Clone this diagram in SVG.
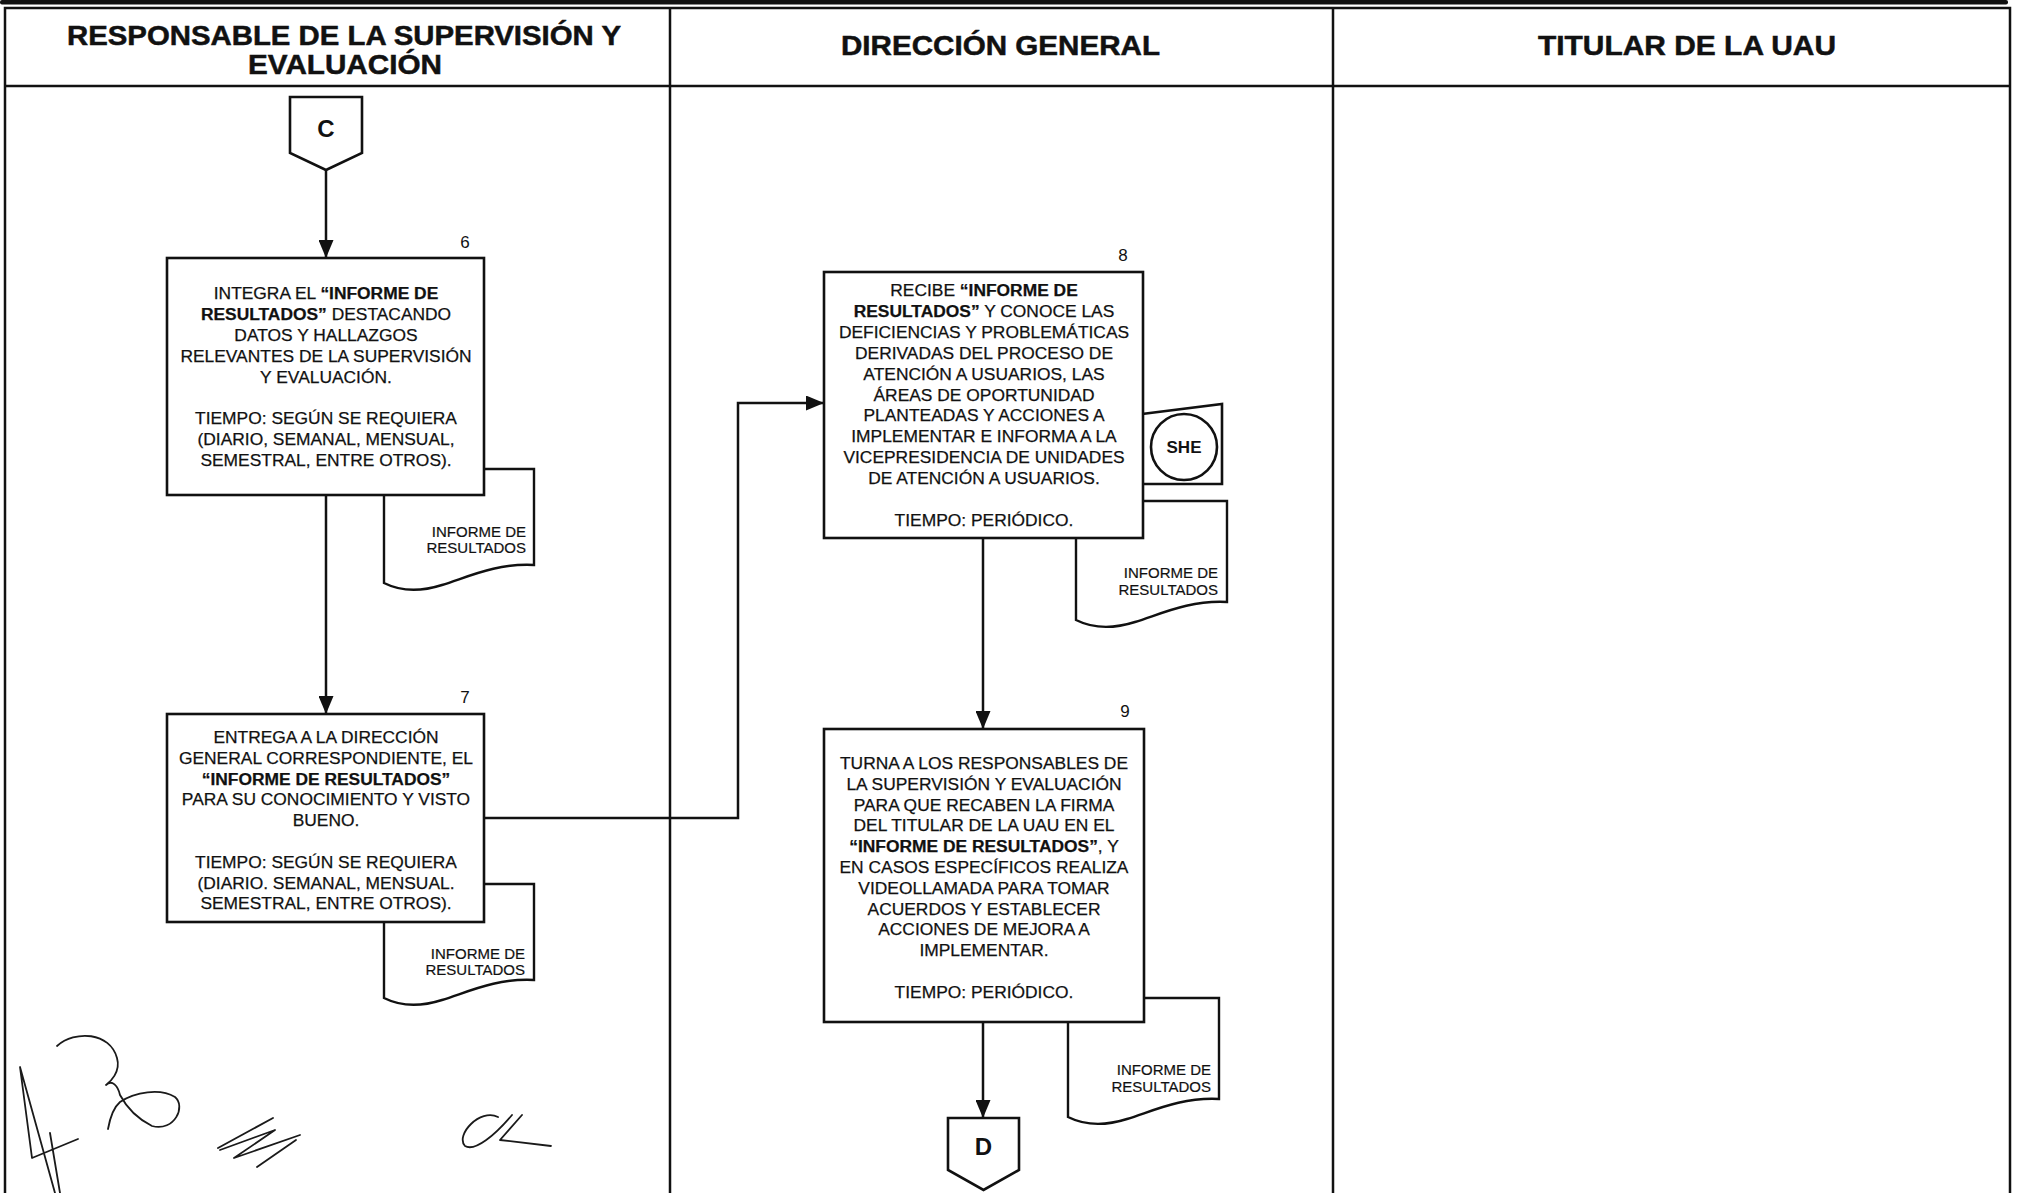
<svg xmlns="http://www.w3.org/2000/svg" width="2017" height="1193" viewBox="0 0 2017 1193">
  <style>
    .frame { fill: none; stroke: #111; stroke-width: 2.5; }
    .box { fill: #fff; stroke: #111; stroke-width: 2.6; }
    .doc { fill: #fff; stroke: #111; stroke-width: 2.4; }
    .edge { fill: none; stroke: #111; stroke-width: 2.5; }
    .sig { fill: none; stroke: #1a1a1a; stroke-width: 1.8; stroke-linecap: round; stroke-linejoin: round; }
    text { font-family: "Liberation Sans", Arial, sans-serif; fill: #111; }
    .t { font-size: 17.4px; text-anchor: middle; stroke: #111; stroke-width: 0.25; }
    .b { font-weight: bold; }
    .h { font-size: 27px; font-weight: bold; text-anchor: middle; stroke: #111; stroke-width: 0.5; }
    .n { font-size: 17px; text-anchor: middle; }
    .d { font-size: 15px; text-anchor: end; stroke: #111; stroke-width: 0.2; }
    .k { font-size: 24px; font-weight: bold; text-anchor: middle; }
    .she { font-size: 17px; font-weight: bold; text-anchor: middle; }
  </style>
  <defs>
    <marker id="arrow" markerUnits="userSpaceOnUse" markerWidth="18" markerHeight="15" refX="18" refY="7.5" orient="auto">
      <path d="M0,0 L18,7.5 L0,15 Z" fill="#111"/>
    </marker>
    <!-- document symbols with wavy bottom, origin at top-left -->
    <path id="docShape" d="M0,0 H150 V96 C112,94 84,108 58,116 C36,123 16,122 0,114 Z"/>
    <path id="docShapeTall" d="M0,0 H151 V101 C113,99 85,113 59,121 C37,128 16,127 0,119 Z"/>
  </defs>

  <rect width="2017" height="1193" fill="#fff"/>

  <!-- page rule and swimlane table -->
  <rect x="0" y="0" width="2008" height="4.5" rx="2" fill="#111"/>
  <g id="lanes">
    <path class="frame" d="M5,1193 V8 H2010 V1193"/>
    <line class="frame" x1="5" y1="86" x2="2010" y2="86"/>
    <line class="frame" x1="670" y1="8" x2="670" y2="1193"/>
    <line class="frame" x1="1333" y1="8" x2="1333" y2="1193"/>
    <text class="h" x="344" y="45" textLength="554" lengthAdjust="spacingAndGlyphs">RESPONSABLE DE LA SUPERVISIÓN Y</text>
    <text class="h" x="345" y="74" textLength="194" lengthAdjust="spacingAndGlyphs">EVALUACIÓN</text>
    <text class="h" x="1000.5" y="55" textLength="319" lengthAdjust="spacingAndGlyphs">DIRECCIÓN GENERAL</text>
    <text class="h" x="1687" y="55" textLength="298" lengthAdjust="spacingAndGlyphs">TITULAR DE LA UAU</text>
  </g>

  <!-- connectors -->
  <g id="edges">
    <line class="edge" x1="326" y1="170" x2="326" y2="258" marker-end="url(#arrow)"/>
    <line class="edge" x1="326" y1="495" x2="326" y2="714" marker-end="url(#arrow)"/>
    <polyline class="edge" points="484,818 738,818 738,403 824,403" marker-end="url(#arrow)"/>
    <line class="edge" x1="983" y1="538" x2="983" y2="729" marker-end="url(#arrow)"/>
    <line class="edge" x1="983" y1="1022" x2="983" y2="1118" marker-end="url(#arrow)"/>
  </g>

  <!-- off-page connector C -->
  <g id="conn-c">
    <path class="box" d="M290,97 H362 V153 L326,170 L290,153 Z"/>
    <text class="k" x="326" y="137">C</text>
  </g>

  <!-- step 6 -->
  <g id="step-6">
    <use href="#docShape" class="doc" transform="translate(384,469)"/>
    <text class="d" x="526" y="537">INFORME DE</text>
    <text class="d" x="526" y="553">RESULTADOS</text>
    <rect class="box" x="167" y="258" width="317" height="237"/>
    <text class="n" x="465" y="248">6</text>
    <text class="t" x="326" y="299">INTEGRA EL <tspan class="b">“INFORME DE</tspan></text>
    <text class="t" x="326" y="319.9"><tspan class="b">RESULTADOS”</tspan> DESTACANDO</text>
    <text class="t" x="326" y="340.8">DATOS Y HALLAZGOS</text>
    <text class="t" x="326" y="361.7">RELEVANTES DE LA SUPERVISIÓN</text>
    <text class="t" x="326" y="382.6">Y EVALUACIÓN.</text>
    <text class="t" x="326" y="424.4">TIEMPO: SEGÚN SE REQUIERA</text>
    <text class="t" x="326" y="445.3">(DIARIO, SEMANAL, MENSUAL,</text>
    <text class="t" x="326" y="466.2">SEMESTRAL, ENTRE OTROS).</text>
  </g>

  <!-- step 7 -->
  <g id="step-7">
    <use href="#docShape" class="doc" transform="translate(384,884)"/>
    <text class="d" x="525" y="959">INFORME DE</text>
    <text class="d" x="525" y="975">RESULTADOS</text>
    <rect class="box" x="167" y="714" width="317" height="208"/>
    <text class="n" x="465" y="703">7</text>
    <text class="t" x="326" y="743">ENTREGA A LA DIRECCIÓN</text>
    <text class="t" x="326" y="763.8">GENERAL CORRESPONDIENTE, EL</text>
    <text class="t b" x="326" y="784.6">“INFORME DE RESULTADOS”</text>
    <text class="t" x="326" y="805.4">PARA SU CONOCIMIENTO Y VISTO</text>
    <text class="t" x="326" y="826.2">BUENO.</text>
    <text class="t" x="326" y="867.8">TIEMPO: SEGÚN SE REQUIERA</text>
    <text class="t" x="326" y="888.6">(DIARIO. SEMANAL, MENSUAL.</text>
    <text class="t" x="326" y="909.4">SEMESTRAL, ENTRE OTROS).</text>
  </g>

  <!-- step 8 -->
  <g id="step-8">
    <use href="#docShapeTall" class="doc" transform="translate(1076,501)"/>
    <text class="d" x="1218" y="578">INFORME DE</text>
    <text class="d" x="1218" y="595">RESULTADOS</text>
    <path class="box" d="M1130,415.5 L1222,404 V484 H1130 Z"/>
    <circle class="box" cx="1184" cy="447" r="33"/>
    <text class="she" x="1184" y="453">SHE</text>
    <rect class="box" x="824" y="272" width="319" height="266"/>
    <text class="n" x="1123" y="261">8</text>
    <text class="t" x="984" y="296">RECIBE <tspan class="b">“INFORME DE</tspan></text>
    <text class="t" x="984" y="316.9"><tspan class="b">RESULTADOS”</tspan> Y CONOCE LAS</text>
    <text class="t" x="984" y="337.8">DEFICIENCIAS Y PROBLEMÁTICAS</text>
    <text class="t" x="984" y="358.7">DERIVADAS DEL PROCESO DE</text>
    <text class="t" x="984" y="379.6">ATENCIÓN A USUARIOS, LAS</text>
    <text class="t" x="984" y="400.5">ÁREAS DE OPORTUNIDAD</text>
    <text class="t" x="984" y="421.4">PLANTEADAS Y ACCIONES A</text>
    <text class="t" x="984" y="442.3">IMPLEMENTAR E INFORMA A LA</text>
    <text class="t" x="984" y="463.2">VICEPRESIDENCIA DE UNIDADES</text>
    <text class="t" x="984" y="484.1">DE ATENCIÓN A USUARIOS.</text>
    <text class="t" x="984" y="525.9">TIEMPO: PERIÓDICO.</text>
  </g>

  <!-- step 9 -->
  <g id="step-9">
    <use href="#docShapeTall" class="doc" transform="translate(1068,998)"/>
    <text class="d" x="1211" y="1075">INFORME DE</text>
    <text class="d" x="1211" y="1092">RESULTADOS</text>
    <rect class="box" x="824" y="729" width="320" height="293"/>
    <text class="n" x="1125" y="717">9</text>
    <text class="t" x="984" y="769">TURNA A LOS RESPONSABLES DE</text>
    <text class="t" x="984" y="789.8">LA SUPERVISIÓN Y EVALUACIÓN</text>
    <text class="t" x="984" y="810.6">PARA QUE RECABEN LA FIRMA</text>
    <text class="t" x="984" y="831.4">DEL TITULAR DE LA UAU EN EL</text>
    <text class="t" x="984" y="852.2"><tspan class="b">“INFORME DE RESULTADOS”</tspan>, Y</text>
    <text class="t" x="984" y="873">EN CASOS ESPECÍFICOS REALIZA</text>
    <text class="t" x="984" y="893.8">VIDEOLLAMADA PARA TOMAR</text>
    <text class="t" x="984" y="914.6">ACUERDOS Y ESTABLECER</text>
    <text class="t" x="984" y="935.4">ACCIONES DE MEJORA A</text>
    <text class="t" x="984" y="956.2">IMPLEMENTAR.</text>
    <text class="t" x="984" y="997.8">TIEMPO: PERIÓDICO.</text>
  </g>

  <!-- off-page connector D -->
  <g id="conn-d">
    <path class="box" d="M948,1118 H1019 V1170 L983.5,1190 L948,1170 Z"/>
    <text class="k" x="983.5" y="1155">D</text>
  </g>

  <!-- handwritten initials along the bottom margin -->
  <g id="initials">
    <path class="sig" d="M55,1193 L20,1067 L32,1158 L78,1139"/>
    <path class="sig" d="M50,1133 L60,1193"/>
    <path class="sig" d="M57,1046 C75,1030 110,1032 117,1058 C121,1072 110,1082 106,1085 C112,1079 118,1086 120,1095 C128,1110 140,1120 152,1126 C175,1132 186,1106 175,1097 C160,1088 135,1092 120,1102 C113,1108 110,1118 108,1129"/>
    <path class="sig" d="M218,1148 L273,1118 M220,1150 L275,1130 L234,1158 L300,1135 M257,1167 L296,1140"/>
    <path class="sig" d="M498,1117 C480,1108 455,1135 465,1146 C475,1152 495,1135 512,1115 M522,1115 L500,1140 L551,1146"/>
  </g>
</svg>
